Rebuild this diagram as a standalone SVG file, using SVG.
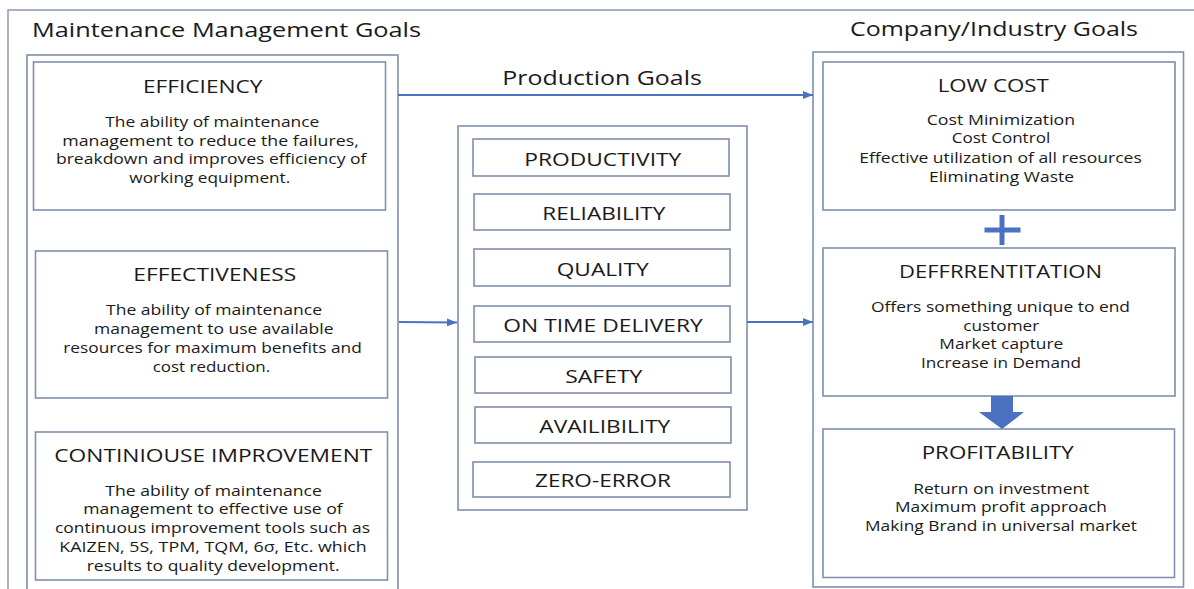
<svg xmlns="http://www.w3.org/2000/svg" width="1194" height="589" viewBox="0 0 1194 589">
<defs>
<style>
.frame{fill:none;stroke:#8a99b8;stroke-width:1.5}
.box{fill:#fff;stroke:#7f8fad;stroke-width:1.6}
.t{font-family:"Open Sans","Liberation Sans",sans-serif;fill:#1a1a1a}
.title{font-size:20px}
.head{font-size:18.5px}
.body{font-size:14.5px}
.conn{stroke:#4a72c0;stroke-width:2;fill:none}
.blue{fill:#4a72c0}
</style>
<marker id="ah" markerUnits="userSpaceOnUse" markerWidth="10" markerHeight="8" refX="10" refY="4" orient="auto">
<path d="M0,0 L10,4 L0,8 z" fill="#4a72c0"/>
</marker>
</defs>
<rect width="1194" height="589" fill="#fff"/>
<rect class="frame" x="8" y="10" width="1200" height="600"/>

<g id="left-group">
<text class="t title" x="32" y="37" textLength="389" lengthAdjust="spacingAndGlyphs">Maintenance Management Goals</text>
<rect class="box" x="27" y="55" width="371" height="560"/>
</g>

<g id="efficiency">
<rect class="box" x="33.5" y="62" width="352" height="148"/>
<text class="t head" x="143" y="92.7" textLength="119.5" lengthAdjust="spacingAndGlyphs">EFFICIENCY</text>
<text class="t body" x="105.3" y="127" textLength="214" lengthAdjust="spacingAndGlyphs">The ability of maintenance</text>
<text class="t body" x="62.3" y="145.7" textLength="296.5" lengthAdjust="spacingAndGlyphs">management to reduce the failures,</text>
<text class="t body" x="56" y="164" textLength="310.5" lengthAdjust="spacingAndGlyphs">breakdown and improves efficiency of</text>
<text class="t body" x="129.3" y="182.7" textLength="161" lengthAdjust="spacingAndGlyphs">working equipment.</text>
</g>

<g id="effectiveness">
<rect class="box" x="35.5" y="251" width="352" height="147"/>
<text class="t head" x="133.3" y="280.7" textLength="163" lengthAdjust="spacingAndGlyphs">EFFECTIVENESS</text>
<text class="t body" x="106" y="315" textLength="216" lengthAdjust="spacingAndGlyphs">The ability of maintenance</text>
<text class="t body" x="94" y="334" textLength="239.5" lengthAdjust="spacingAndGlyphs">management to use available</text>
<text class="t body" x="63.3" y="352.7" textLength="298.5" lengthAdjust="spacingAndGlyphs">resources for maximum benefits and</text>
<text class="t body" x="152.7" y="371.7" textLength="117.5" lengthAdjust="spacingAndGlyphs">cost reduction.</text>
</g>

<g id="continuous-improvement">
<rect class="box" x="35.5" y="432" width="352" height="148"/>
<text class="t head" x="54.3" y="462.3" textLength="318" lengthAdjust="spacingAndGlyphs">CONTINIOUSE IMPROVEMENT</text>
<text class="t body" x="105.3" y="496" textLength="216.5" lengthAdjust="spacingAndGlyphs">The ability of maintenance</text>
<text class="t body" x="83.3" y="514.3" textLength="259.5" lengthAdjust="spacingAndGlyphs">management to effective use of</text>
<text class="t body" x="55" y="533.3" textLength="315" lengthAdjust="spacingAndGlyphs">continuous improvement tools such as</text>
<text class="t body" x="59.3" y="552.3" textLength="307.5" lengthAdjust="spacingAndGlyphs">KAIZEN, 5S, TPM, TQM, 6σ, Etc. which</text>
<text class="t body" x="86.7" y="571" textLength="253" lengthAdjust="spacingAndGlyphs">results to quality development.</text>
</g>

<g id="production-goals">
<text class="t title" x="502.3" y="85" textLength="199.5" lengthAdjust="spacingAndGlyphs">Production Goals</text>
<rect class="box" x="458" y="126" width="289" height="384"/>
</g>
<g id="productivity">
<rect class="box" x="473" y="139" width="256" height="37"/>
<text class="t head" x="524.3" y="165.7" textLength="157" lengthAdjust="spacingAndGlyphs">PRODUCTIVITY</text>
</g>
<g id="reliability">
<rect class="box" x="474" y="194" width="256" height="36"/>
<text class="t head" x="542.3" y="220" textLength="123" lengthAdjust="spacingAndGlyphs">RELIABILITY</text>
</g>
<g id="quality">
<rect class="box" x="474" y="249" width="256" height="37"/>
<text class="t head" x="556.7" y="275.7" textLength="92" lengthAdjust="spacingAndGlyphs">QUALITY</text>
</g>
<g id="on-time-delivery">
<rect class="box" x="474" y="306" width="256" height="36"/>
<text class="t head" x="503.3" y="332.3" textLength="199.5" lengthAdjust="spacingAndGlyphs">ON TIME DELIVERY</text>
</g>
<g id="safety">
<rect class="box" x="475" y="357" width="256" height="36"/>
<text class="t head" x="565.3" y="383.3" textLength="77" lengthAdjust="spacingAndGlyphs">SAFETY</text>
</g>
<g id="availibility">
<rect class="box" x="475" y="407" width="256" height="36"/>
<text class="t head" x="539.3" y="433.3" textLength="131" lengthAdjust="spacingAndGlyphs">AVAILIBILITY</text>
</g>
<g id="zero-error">
<rect class="box" x="473" y="462" width="257" height="35"/>
<text class="t head" x="535" y="487.3" textLength="136" lengthAdjust="spacingAndGlyphs">ZERO-ERROR</text>
</g>

<g id="company-goals">
<text class="t title" x="850" y="36" textLength="288" lengthAdjust="spacingAndGlyphs">Company/Industry Goals</text>
<rect class="box" x="813" y="52" width="370.5" height="535"/>
</g>
<g id="low-cost">
<rect class="box" x="823" y="62" width="352" height="148"/>
<text class="t head" x="937.7" y="91.7" textLength="111" lengthAdjust="spacingAndGlyphs">LOW COST</text>
<text class="t body" x="926.7" y="125.3" textLength="148.5" lengthAdjust="spacingAndGlyphs">Cost Minimization</text>
<text class="t body" x="951.7" y="143.3" textLength="98.5" lengthAdjust="spacingAndGlyphs">Cost Control</text>
<text class="t body" x="859.3" y="162.7" textLength="282.5" lengthAdjust="spacingAndGlyphs">Effective utilization of all resources</text>
<text class="t body" x="929" y="181.7" textLength="145" lengthAdjust="spacingAndGlyphs">Eliminating Waste</text>
</g>
<g id="differentiation">
<rect class="box" x="823" y="248" width="352" height="148"/>
<text class="t head" x="899" y="278.3" textLength="203" lengthAdjust="spacingAndGlyphs">DEFFRRENTITATION</text>
<text class="t body" x="871" y="311.7" textLength="259" lengthAdjust="spacingAndGlyphs">Offers something unique to end</text>
<text class="t body" x="963.3" y="330.7" textLength="76" lengthAdjust="spacingAndGlyphs">customer</text>
<text class="t body" x="939.3" y="349.3" textLength="124" lengthAdjust="spacingAndGlyphs">Market capture</text>
<text class="t body" x="921" y="368.3" textLength="160" lengthAdjust="spacingAndGlyphs">Increase in Demand</text>
</g>
<g id="profitability">
<rect class="box" x="823" y="429" width="351.5" height="148.5"/>
<text class="t head" x="921.7" y="459.3" textLength="152" lengthAdjust="spacingAndGlyphs">PROFITABILITY</text>
<text class="t body" x="913.3" y="494" textLength="176" lengthAdjust="spacingAndGlyphs">Return on investment</text>
<text class="t body" x="895" y="512.3" textLength="212" lengthAdjust="spacingAndGlyphs">Maximum profit approach</text>
<text class="t body" x="865" y="530.7" textLength="272" lengthAdjust="spacingAndGlyphs">Making Brand in universal market</text>
</g>

<g id="connectors">
<line class="conn" x1="398" y1="95" x2="813" y2="95" marker-end="url(#ah)"/>
<line class="conn" x1="399" y1="322" x2="457" y2="322.5" marker-end="url(#ah)"/>
<line class="conn" x1="747" y1="322" x2="813" y2="322" marker-end="url(#ah)"/>
<rect class="blue" x="984.5" y="227.5" width="36" height="5"/>
<rect class="blue" x="999.5" y="215" width="5" height="30"/>
<path class="blue" d="M991,396 L1013,396 L1013,412 L1024,412 L1002,429 L979,412 L991,412 z"/>
</g>
</svg>
